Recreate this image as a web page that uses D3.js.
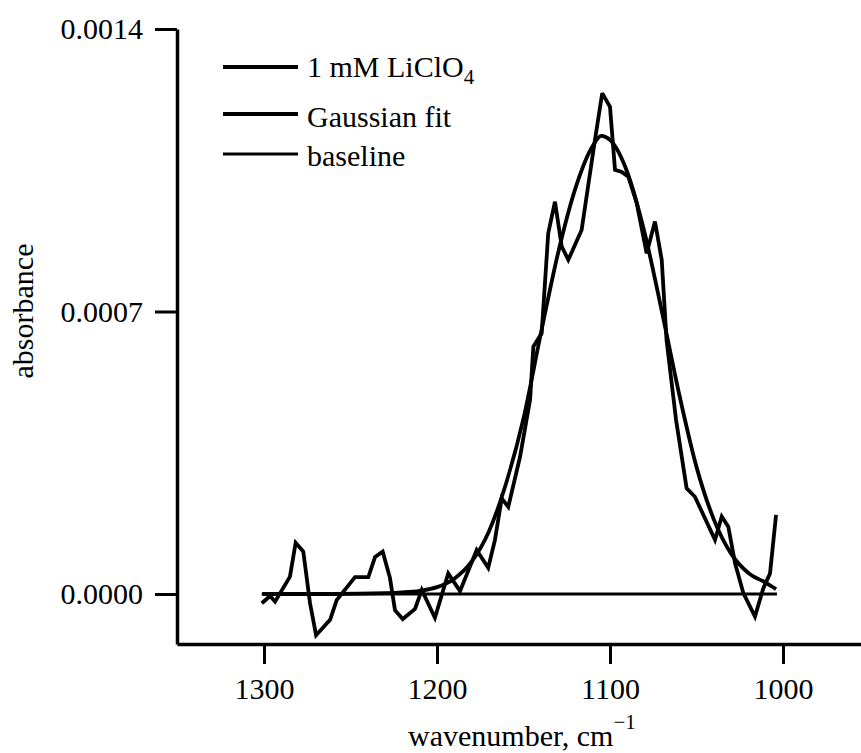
<!DOCTYPE html>
<html>
<head>
<meta charset="utf-8">
<script src="https://cdn.jsdelivr.net/npm/d3@7/dist/d3.min.js"></script>
<style>
  html, body { margin: 0; padding: 0; background: #fff; }
  svg { display: block; }
  text { font-family: "Liberation Serif", "Times New Roman", serif; fill: #000; }
</style>
</head>
<body>
<svg id="chart" width="861" height="753"></svg>
<script>
// Measured spectrum: wavenumber (cm^-1) and absorbance
const spectrumWavenumber = [
  1301.3, 1296.5, 1293.6, 1285.0, 1281.7, 1277.3, 1273.4, 1269.9, 1261.8, 1258.0,
  1247.4, 1239.7, 1235.8, 1231.4, 1227.2, 1224.3, 1219.8, 1212.7, 1208.8, 1201.2,
  1193.5, 1186.7, 1177.1, 1170.4, 1166.5, 1162.6, 1158.8, 1152.0, 1146.2, 1144.3,
  1139.5, 1135.7, 1131.8, 1127.9, 1124.1, 1116.4, 1108.7, 1104.5, 1100.0, 1097.1,
  1093.2, 1089.4, 1084.6, 1078.8, 1074.0, 1070.1, 1067.3, 1061.8, 1055.7, 1050.9,
  1039.3, 1035.4, 1031.6, 1027.7, 1022.9, 1016.2, 1011.4, 1007.5, 1004.0
];
const spectrumAbsorbance = [
  -0.23e-4, -0.05e-4, -0.19e-4, 0.43e-4, 1.27e-4, 1.05e-4, -0.23e-4, -1.02e-4, -0.64e-4, -0.15e-4,
  0.42e-4, 0.42e-4, 0.92e-4, 1.05e-4, 0.40e-4, -0.40e-4, -0.62e-4, -0.37e-4, 0.10e-4, -0.59e-4,
  0.51e-4, 0.07e-4, 1.09e-4, 0.65e-4, 1.34e-4, 2.37e-4, 2.16e-4, 3.40e-4, 4.81e-4, 6.13e-4,
  6.46e-4, 8.94e-4, 9.72e-4, 8.61e-4, 8.28e-4, 9.02e-4, 11.25e-4, 12.41e-4, 12.07e-4, 10.51e-4,
  10.46e-4, 10.34e-4, 9.69e-4, 8.44e-4, 9.23e-4, 8.28e-4, 6.29e-4, 4.31e-4, 2.62e-4, 2.41e-4,
  1.34e-4, 1.92e-4, 1.67e-4, 0.76e-4, 0.02e-4, -0.56e-4, 0.14e-4, 0.51e-4, 1.96e-4
];

// Gaussian fit curve sampled along the wavenumber range
const fitWavenumber = [
  1301, 1260, 1230, 1220, 1210, 1200, 1190, 1180, 1170, 1160, 1150, 1140, 1130,
  1120, 1110, 1105, 1100, 1090, 1080, 1070, 1060, 1050, 1040, 1030, 1020, 1010, 1004
];
const fitAbsorbance = [
  0, 0, 0.02e-4, 0.04e-4, 0.08e-4, 0.17e-4, 0.38e-4, 0.80e-4, 1.55e-4, 2.75e-4, 4.35e-4, 6.45e-4, 8.45e-4,
  10.05e-4, 11.10e-4, 11.35e-4, 11.25e-4, 10.45e-4, 8.95e-4, 7.00e-4, 4.95e-4, 3.15e-4, 1.85e-4, 1.00e-4, 0.52e-4, 0.28e-4, 0.12e-4
];

// Zero baseline
const baselineWavenumber = [1301.3, 1003.5];
const baselineAbsorbance = [0, 0];

// Axis ticks
const xTicks = [1300, 1200, 1100, 1000];
const yTicks = [0, 0.0007, 0.0014];
const yTickLabels = ["0.0000", "0.0007", "0.0014"];

const legendLabels = ["1 mM LiClO", "Gaussian fit", "baseline"];

const svg = d3.select("#chart");
const plotLeft = 177, plotRight = 861, plotTop = 29, plotBottom = 644;

const x = d3.scaleLinear().domain([1350.3, 954.9]).range([plotLeft, plotRight]);
const y = d3.scaleLinear().domain([-1.239e-4, 0.0014]).range([plotBottom, plotTop]);

const zip = (xs, ys) => xs.map((v, i) => [v, ys[i]]);

// Axes
const xAxis = d3.axisBottom(x).tickValues(xTicks).tickSize(20).tickSizeOuter(0).tickPadding(14)
  .tickFormat(d3.format("d"));
const gx = svg.append("g").attr("transform", `translate(0,${plotBottom})`).call(xAxis);
gx.select(".domain").attr("stroke-width", 3.5).attr("stroke", "#000");
gx.selectAll(".tick line").attr("stroke-width", 3).attr("stroke", "#000");
gx.selectAll(".tick text").attr("font-size", 30).attr("font-family", "Liberation Serif");

const yAxis = d3.axisLeft(y).tickValues(yTicks).tickSize(22).tickSizeOuter(0).tickPadding(12)
  .tickFormat((d, i) => yTickLabels[i]);
const gy = svg.append("g").attr("transform", `translate(${plotLeft},0)`).call(yAxis);
gy.select(".domain").attr("stroke-width", 3.5).attr("stroke", "#000");
gy.selectAll(".tick line").attr("stroke-width", 3).attr("stroke", "#000");
gy.selectAll(".tick text").attr("font-size", 30).attr("font-family", "Liberation Serif");

// Axis titles
const xt = svg.append("text").attr("x", 408).attr("y", 746).attr("font-size", 30);
xt.append("tspan").text("wavenumber, cm");
xt.append("tspan").attr("font-size", 21).attr("dy", -17).text("\u22121");

svg.append("text")
  .attr("transform", "translate(33,311) rotate(-90)")
  .attr("text-anchor", "middle")
  .attr("font-size", 30)
  .text("absorbance");

// Lines
const line = d3.line().x(d => x(d[0])).y(d => y(d[1]));
const smooth = d3.line().x(d => x(d[0])).y(d => y(d[1])).curve(d3.curveMonotoneX);

svg.append("path")
  .datum(zip(baselineWavenumber, baselineAbsorbance))
  .attr("d", line).attr("fill", "none").attr("stroke", "#000").attr("stroke-width", 3);

svg.append("path")
  .datum(zip(fitWavenumber, fitAbsorbance))
  .attr("d", smooth).attr("fill", "none").attr("stroke", "#000").attr("stroke-width", 3.8)
  .attr("stroke-linejoin", "round");

svg.append("path")
  .datum(zip(spectrumWavenumber, spectrumAbsorbance))
  .attr("d", line).attr("fill", "none").attr("stroke", "#000").attr("stroke-width", 3.8)
  .attr("stroke-linejoin", "miter").attr("stroke-miterlimit", 3);

// Legend
const legendRows = [
  { y: 67, base: 77, w: 4 },
  { y: 114, base: 127, w: 4 },
  { y: 154, base: 166, w: 3 }
];
legendRows.forEach((r, i) => {
  svg.append("line").attr("x1", 223).attr("x2", 298).attr("y1", r.y).attr("y2", r.y)
    .attr("stroke", "#000").attr("stroke-width", r.w);
  const t = svg.append("text").attr("x", 307).attr("y", r.base).attr("font-size", 30).text(legendLabels[i]);
  if (i === 0) t.append("tspan").attr("font-size", 21).attr("dy", 7).text("4");
});
</script>
</body>
</html>
